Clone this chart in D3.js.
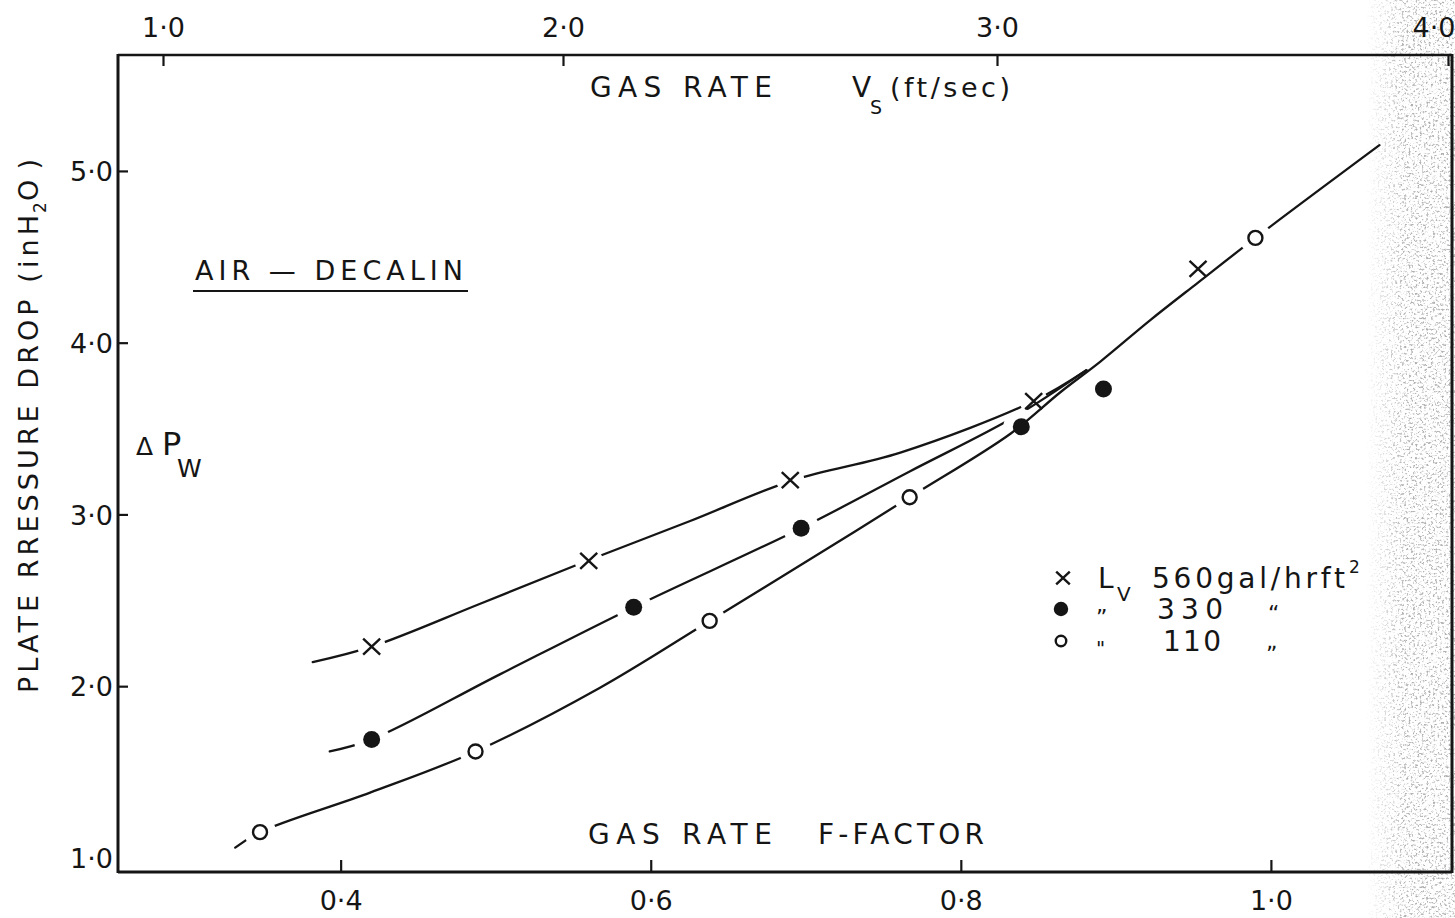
<!DOCTYPE html>
<html>
<head>
<meta charset="utf-8">
<script src="https://cdn.jsdelivr.net/npm/d3@7"></script>
<style>
  html, body { margin: 0; padding: 0; background: #fff; }
  svg { display: block; }
  text { font-family: "DejaVu Sans", "Liberation Sans", Arial, sans-serif; fill: #151515; }
</style>
</head>
<body>
<svg id="chart" width="1455" height="918"></svg>
<script>
// ---- axis tick values ----
const fTicks = [0.4, 0.6, 0.8, 1.0];          // gas rate F-factor (bottom)
const vsTicks = [1.0, 2.0, 3.0, 4.0];         // gas rate Vs, ft/sec (top)
const dpTicks = [1.0, 2.0, 3.0, 4.0, 5.0];    // plate pressure drop, in H2O (left)

// ---- measured points (F-factor, pressure drop) for each liquid rate ----
const f560  = [0.42, 0.56, 0.69, 0.847, 0.953];
const dp560 = [2.23, 2.73, 3.20, 3.66, 4.43];

const f330  = [0.42, 0.589, 0.697, 0.839, 0.892];
const dp330 = [1.69, 2.46, 2.92, 3.51, 3.73];

const f110  = [0.348, 0.487, 0.638, 0.767, 0.990];
const dp110 = [1.15, 1.62, 2.38, 3.10, 4.61];

// ---- hand-faired curves through each set ----
const curveF560  = [0.382, 0.42, 0.490, 0.559, 0.625, 0.692, 0.761, 0.847, 0.881];
const curveDp560 = [2.14, 2.23, 2.48, 2.73, 2.96, 3.20, 3.36, 3.66, 3.84];

const curveF330  = [0.393, 0.42, 0.503, 0.589, 0.697, 0.767, 0.835, 0.881];
const curveDp330 = [1.62, 1.69, 2.07, 2.46, 2.92, 3.25, 3.57, 3.84];

const curveF110  = [0.332, 0.348, 0.419, 0.487, 0.567, 0.638, 0.703, 0.767, 0.832, 0.864, 0.890, 0.922, 0.953, 0.990, 1.070];
const curveDp110 = [1.06, 1.15, 1.38, 1.62, 1.99, 2.38, 2.74, 3.10, 3.47, 3.71, 3.89, 4.13, 4.35, 4.61, 5.15];

// ---- legend ----
const legendRates = ["560", "330", "110"];

const svg = d3.select("#chart");
const W = 1455, H = 918;
const frame = { left: 118, right: 1452, top: 55, bottom: 872 };
const INK = "#151515";
const FONT = "DejaVu Sans, Liberation Sans, Arial, sans-serif";

const x = d3.scaleLinear().domain([0.2564, 1.1168]).range([frame.left, frame.right]);
const y = d3.scaleLinear().domain([0.918, 5.675]).range([frame.bottom, frame.top]);
// the velocity scale on the top edge is graduated unevenly
const vs = d3.scaleLinear().domain(vsTicks).range([163, 563, 997, 1448]);

const fmt = d => d3.format(".1f")(d).replace(".", "\u00B7");

const defs = svg.append("defs");

// ---- grainy strip along the right edge ----
const grain = defs.append("filter").attr("id", "grain")
  .attr("x", 0).attr("y", 0).attr("width", "100%").attr("height", "100%");
grain.append("feTurbulence").attr("type", "fractalNoise")
  .attr("baseFrequency", 0.45).attr("numOctaves", 3).attr("seed", 11).attr("result", "n");
grain.append("feColorMatrix").attr("in", "n").attr("type", "matrix")
  .attr("values", "0 0 0 0 0.42  0 0 0 0 0.42  0 0 0 0 0.42  1 0 0 0 0").attr("result", "a");
grain.append("feComponentTransfer").attr("in", "a")
  .append("feFuncA").attr("type", "discrete")
  .attr("tableValues", "0 0 0 0 0 0 0 0 0.05 0.25 0.55 0.8 0.95 1 1 1");

const fade = defs.append("linearGradient").attr("id", "fade")
  .attr("gradientUnits", "userSpaceOnUse")
  .attr("x1", 1366).attr("x2", 1405).attr("y1", 0).attr("y2", 0);
fade.append("stop").attr("offset", 0).attr("stop-color", "#000");
fade.append("stop").attr("offset", 1).attr("stop-color", "#fff");
const fadeMask = defs.append("mask").attr("id", "fadeMask")
  .attr("maskUnits", "userSpaceOnUse").attr("x", 0).attr("y", 0).attr("width", W).attr("height", H);
fadeMask.append("rect").attr("x", 0).attr("y", 0).attr("width", W).attr("height", H).attr("fill", "url(#fade)");

svg.append("rect").attr("x", 1366).attr("y", 0).attr("width", W - 1366).attr("height", H)
  .attr("fill", "#fff").attr("filter", "url(#grain)").attr("mask", "url(#fadeMask)");

// ---- series ----
const series = [
  { key: "560", f: f560, dp: dp560, cf: curveF560, cdp: curveDp560, marker: "cross",  gap: 14 },
  { key: "330", f: f330, dp: dp330, cf: curveF330, cdp: curveDp330, marker: "dot",    gap: 18 },
  { key: "110", f: f110, dp: dp110, cf: curveF110, cdp: curveDp110, marker: "circle", gap: 16 }
];

const line = d3.line()
  .x(d => x(d[0])).y(d => y(d[1]))
  .curve(d3.curveCatmullRom.alpha(0.5));

series.forEach(s => {
  // break each curve where it meets its own plotted points
  const m = defs.append("mask").attr("id", "gap" + s.key)
    .attr("maskUnits", "userSpaceOnUse").attr("x", 0).attr("y", 0).attr("width", W).attr("height", H);
  m.append("rect").attr("x", 0).attr("y", 0).attr("width", W).attr("height", H).attr("fill", "#fff");
  m.selectAll("circle").data(d3.zip(s.f, s.dp)).join("circle")
    .attr("cx", d => x(d[0])).attr("cy", d => y(d[1])).attr("r", s.gap).attr("fill", "#000");

  svg.append("path")
    .datum(d3.zip(s.cf, s.cdp))
    .attr("d", line)
    .attr("fill", "none").attr("stroke", INK).attr("stroke-width", 2.3)
    .attr("stroke-linecap", "round")
    .attr("mask", "url(#gap" + s.key + ")");
});

function drawMarker(g, type, cx, cy, scale = 1) {
  if (type === "cross") {
    const a = 8.5 * scale, b = 8 * scale;
    g.append("path")
      .attr("d", `M${cx - a},${cy - b}L${cx + a},${cy + b}M${cx - a},${cy + b}L${cx + a},${cy - b}`)
      .attr("stroke", INK).attr("stroke-width", 2.4).attr("fill", "none");
  } else if (type === "dot") {
    g.append("circle").attr("cx", cx).attr("cy", cy).attr("r", 8.5 * scale).attr("fill", INK);
  } else {
    g.append("circle").attr("cx", cx).attr("cy", cy).attr("r", 7 * scale)
      .attr("fill", "#fff").attr("stroke", INK).attr("stroke-width", 2.4);
  }
}

const markers = svg.append("g");
series.forEach(s => {
  d3.zip(s.f, s.dp).forEach(d => drawMarker(markers, s.marker, x(d[0]), y(d[1])));
});

// ---- frame and axes ----
const axes = svg.append("g");
const TICK_FONT = "27px";

const axisB = axes.append("g").attr("transform", `translate(0,${frame.bottom})`)
  .call(d3.axisBottom(x).tickValues(fTicks).tickFormat(fmt).tickSize(-12).tickSizeOuter(0));
axisB.selectAll("text").attr("y", 38).attr("dy", 0)
  .style("font-size", TICK_FONT).style("font-family", FONT);

const axisT = axes.append("g").attr("transform", `translate(0,${frame.top})`)
  .call(d3.axisTop(vs).tickValues(vsTicks).tickFormat(fmt).tickSize(-11).tickSizeOuter(0));
axisT.selectAll("text").attr("y", -18).attr("dy", 0)
  .style("font-size", TICK_FONT).style("font-family", FONT);
// the last top label sits against the right edge
axisT.selectAll(".tick").filter(d => d === 4).select("text")
  .attr("text-anchor", "end").attr("x", W - 1448);

const axisL = axes.append("g").attr("transform", `translate(${frame.left},0)`)
  .call(d3.axisLeft(y).tickValues(dpTicks).tickFormat(fmt).tickSize(-10).tickSizeOuter(0));
axisL.selectAll("text").attr("x", -5).attr("dy", "0.36em")
  .style("font-size", TICK_FONT).style("font-family", FONT);
axisL.selectAll(".tick").filter(d => d === 1).select("line").remove();

axes.selectAll(".domain").remove();
axes.selectAll(".tick line").attr("stroke", INK).attr("stroke-width", 2.2);
axes.selectAll("text").attr("fill", INK);

const frameG = svg.append("g").attr("stroke", INK).attr("fill", "none");
frameG.append("line").attr("x1", frame.left).attr("x2", frame.right).attr("y1", frame.top).attr("y2", frame.top).attr("stroke-width", 2.5);
frameG.append("line").attr("x1", frame.left).attr("x2", frame.right).attr("y1", frame.bottom).attr("y2", frame.bottom).attr("stroke-width", 3);
frameG.append("line").attr("x1", frame.left).attr("x2", frame.left).attr("y1", frame.top - 1).attr("y2", frame.bottom + 1).attr("stroke-width", 3);
frameG.append("line").attr("x1", frame.right).attr("x2", frame.right).attr("y1", frame.top - 1).attr("y2", frame.bottom + 1).attr("stroke-width", 3);

// ---- lettering ----
const ann = svg.append("g");
function label(str, tx, ty, size, width, anchor = "start") {
  const t = ann.append("text").attr("x", tx).attr("y", ty)
    .style("font-size", size + "px").attr("text-anchor", anchor).text(str);
  if (width) t.attr("textLength", width).attr("lengthAdjust", "spacing");
  return t;
}

// top title
label("GAS RATE", 590, 97, 28, 182);
label("V", 852, 97, 28);
label("S", 870, 114, 19);
label("(ft/sec)", 890, 97, 27, 120);

// bottom title
label("GAS RATE", 588, 844, 28, 184);
label("F-FACTOR", 818, 844, 28, 166);

// system name
label("AIR \u2014 DECALIN", 195, 280, 27, 268);
ann.append("line").attr("x1", 193).attr("x2", 468).attr("y1", 291).attr("y2", 291)
  .attr("stroke", INK).attr("stroke-width", 2);

// delta P_w
label("\u0394", 136, 455, 25);
label("P", 162, 455, 32);
label("W", 177, 477, 25);

// vertical axis title
const yt = ann.append("g").attr("transform", "translate(38,693) rotate(-90)");
yt.append("text").attr("x", 0).attr("y", 0).style("font-size", "27px")
  .attr("textLength", 478).attr("lengthAdjust", "spacing")
  .text("PLATE RRESSURE DROP (inH");
yt.append("text").attr("x", 480).attr("y", 8).style("font-size", "17px").text("2");
yt.append("text").attr("x", 492).attr("y", 0).style("font-size", "27px")
  .attr("textLength", 42).attr("lengthAdjust", "spacing").text("O)");

// ---- legend ----
const lg = svg.append("g");
const rowY = [578, 609, 641];
drawMarker(lg, "cross", 1063, rowY[0], 0.8);
drawMarker(lg, "dot", 1061, rowY[1], 0.85);
drawMarker(lg, "circle", 1061, rowY[2], 0.75);

label("L", 1098, rowY[0] + 10, 28);
label("V", 1117, rowY[0] + 23, 20);
label(legendRates[0] + "gal/hrft", 1152, rowY[0] + 10, 28, 193);
label("2", 1349, rowY[0] - 5, 17);

label("\u201D", 1096, rowY[1] + 16, 22);
label(legendRates[1], 1157, rowY[1] + 10, 28, 66);
label("\u201C", 1268, rowY[1] + 12, 22);

label("\"", 1096, rowY[2] + 14, 20);
label(legendRates[2], 1163, rowY[2] + 10, 28, 58);
label("\u201E", 1266, rowY[2] + 8, 22);
</script>
</body>
</html>
